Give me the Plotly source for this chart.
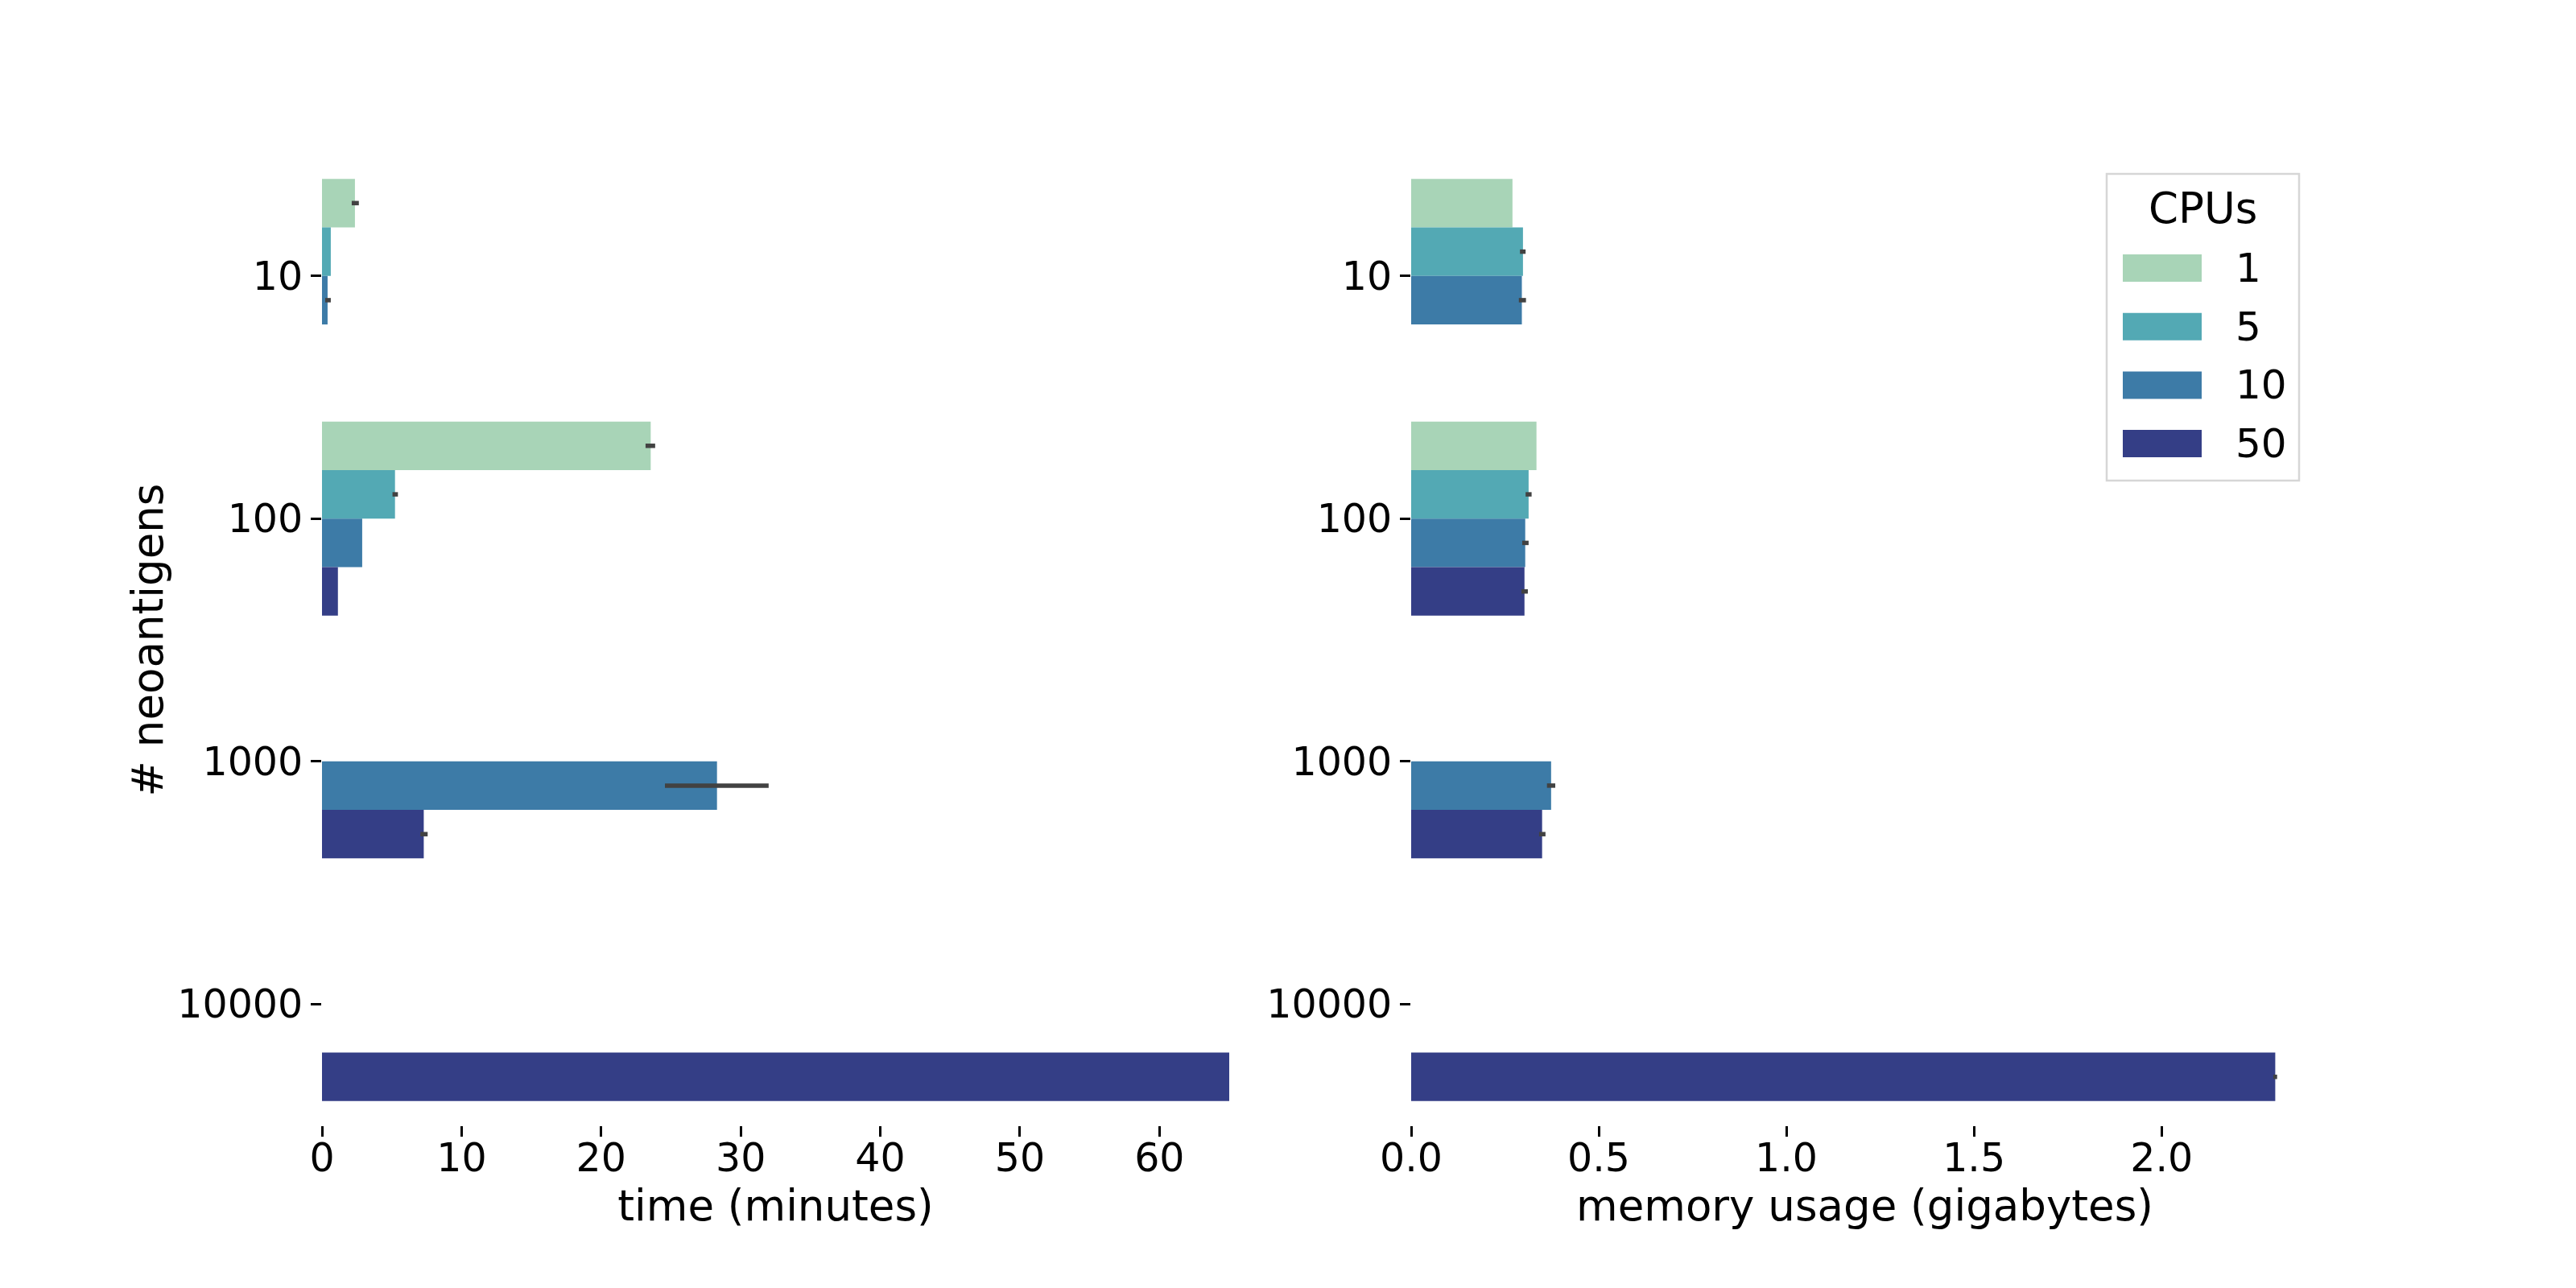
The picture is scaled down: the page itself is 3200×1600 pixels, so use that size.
import plotly.graph_objects as go
from plotly.subplots import make_subplots

# ---- data ----
categories = ["10", "100", "1000", "10000"]
cpus = ["1", "5", "10", "50"]
colors = ["#a8d4b7", "#53a9b4", "#3d7ba7", "#343e86"]

# time (minutes): mean, CI low, CI high per CPU setting
time_1 = [2.36, 23.55, None, None]
time_1_lo = [2.13, 23.18, None, None]
time_1_hi = [2.64, 23.87, None, None]
time_5 = [0.63, 5.23, None, None]
time_5_lo = [0.63, 5.05, None, None]
time_5_hi = [0.63, 5.44, None, None]
time_10 = [0.40, 2.88, 28.3, None]
time_10_lo = [0.23, 2.88, 24.57, None]
time_10_hi = [0.63, 2.88, 32.0, None]
time_50 = [None, 1.14, 7.29, 65.0]
time_50_lo = [None, 1.14, 7.05, 65.0]
time_50_hi = [None, 1.14, 7.57, 65.0]

# memory (gigabytes)
mem_1 = [0.270, 0.334, None, None]
mem_1_lo = [0.270, 0.334, None, None]
mem_1_hi = [0.270, 0.334, None, None]
mem_5 = [0.298, 0.313, None, None]
mem_5_lo = [0.290, 0.305, None, None]
mem_5_hi = [0.305, 0.321, None, None]
mem_10 = [0.295, 0.304, 0.373, None]
mem_10_lo = [0.287, 0.296, 0.362, None]
mem_10_hi = [0.306, 0.313, 0.384, None]
mem_50 = [None, 0.302, 0.349, 2.303]
mem_50_lo = [None, 0.294, 0.341, 2.298]
mem_50_hi = [None, 0.311, 0.358, 2.308]

time_series = [(time_1, time_1_lo, time_1_hi), (time_5, time_5_lo, time_5_hi),
               (time_10, time_10_lo, time_10_hi), (time_50, time_50_lo, time_50_hi)]
mem_series = [(mem_1, mem_1_lo, mem_1_hi), (mem_5, mem_5_lo, mem_5_hi),
              (mem_10, mem_10_lo, mem_10_hi), (mem_50, mem_50_lo, mem_50_hi)]

FONT = "DejaVu Sans"
W, H = 3200, 1600
FS_TITLE = 53
FS_TICK = 49
FS_LEG = 50

fig = make_subplots(rows=1, cols=2)


def err_arrays(vals, lo, hi):
    plus = [(h - v) if v is not None else 0 for v, h in zip(vals, hi)]
    minus = [(v - l) if v is not None else 0 for v, l in zip(vals, lo)]
    return plus, minus


for col, series in ((1, time_series), (2, mem_series)):
    for name, color, (vals, lo, hi) in zip(cpus, colors, series):
        plus, minus = err_arrays(vals, lo, hi)
        fig.add_trace(go.Bar(
            y=categories, x=vals, orientation="h", name=name,
            marker=dict(color=color, line=dict(width=0)),
            error_x=dict(type="data", symmetric=False, array=plus, arrayminus=minus,
                         color="#424242", thickness=5.5, width=0),
            showlegend=False,
        ), row=1, col=col)

fig.update_layout(
    width=W, height=H,
    barmode="group", bargap=0.2, bargroupgap=0,
    plot_bgcolor="white", paper_bgcolor="white",
    margin=dict(l=0, r=0, t=0, b=0, autoexpand=False),
    font=dict(family=FONT, size=FS_TICK, color="black"),
    showlegend=False,
)

ydom = [1 - 1398 / H, 1 - 192 / H]
axis_common = dict(showgrid=False, zeroline=False, showline=False, automargin=False,
                   ticks="outside", ticklen=13, tickwidth=2.5, tickcolor="black",
                   tickfont=dict(family=FONT, size=FS_TICK, color="black"))

fig.update_xaxes(domain=[400 / W, 1527 / W], range=[0, 65], tickvals=[0, 10, 20, 30, 40, 50, 60],
                 ticklabelstandoff=-16,
                 title=dict(text="time (minutes)", font=dict(family=FONT, size=FS_TITLE), standoff=12),
                 row=1, col=1, **axis_common)
fig.update_xaxes(domain=[1753 / W, 2880 / W], range=[0, 2.418], tickvals=[0, 0.5, 1.0, 1.5, 2.0],
                 ticktext=["0.0", "0.5", "1.0", "1.5", "2.0"], ticklabelstandoff=-16,
                 title=dict(text="memory usage (gigabytes)", font=dict(family=FONT, size=FS_TITLE), standoff=12),
                 row=1, col=2, **axis_common)
fig.update_yaxes(domain=ydom, type="category", categoryorder="array", categoryarray=categories,
                 range=[3.5, -0.5], ticklabelstandoff=0,
                 title=dict(text="# neoantigens", font=dict(family=FONT, size=FS_TITLE), standoff=0),
                 row=1, col=1, **axis_common)
fig.update_yaxes(domain=ydom, type="category", categoryorder="array", categoryarray=categories,
                 range=[3.5, -0.5], ticklabelstandoff=0, row=1, col=2, **axis_common)

# ---- legend (drawn to match matplotlib-style legend) ----
box = dict(x0=2617, x1=2856, y0=216, y1=597)
fig.add_shape(type="rect", xref="paper", yref="paper",
              x0=box["x0"] / W, x1=box["x1"] / W, y0=1 - box["y1"] / H, y1=1 - box["y0"] / H,
              line=dict(color="#d6d6d6", width=2.5), fillcolor="rgba(255,255,255,0.8)", layer="above")
fig.add_annotation(text="CPUs", xref="paper", yref="paper", x=2736 / W, y=1 - 258 / H,
                   showarrow=False, xanchor="center", yanchor="middle",
                   font=dict(family=FONT, size=FS_TITLE, color="black"))
for i, (name, color) in enumerate(zip(cpus, colors)):
    cy = 333 + i * 72.7
    fig.add_shape(type="rect", xref="paper", yref="paper",
                  x0=2637 / W, x1=2735 / W, y0=1 - (cy + 17) / H, y1=1 - (cy - 17) / H,
                  line=dict(width=0), fillcolor=color, layer="above")
    fig.add_annotation(text=name, xref="paper", yref="paper", x=2775 / W, y=1 - cy / H,
                       showarrow=False, xanchor="left", yanchor="middle",
                       font=dict(family=FONT, size=FS_LEG, color="black"))

fig.write_html("out.html")
